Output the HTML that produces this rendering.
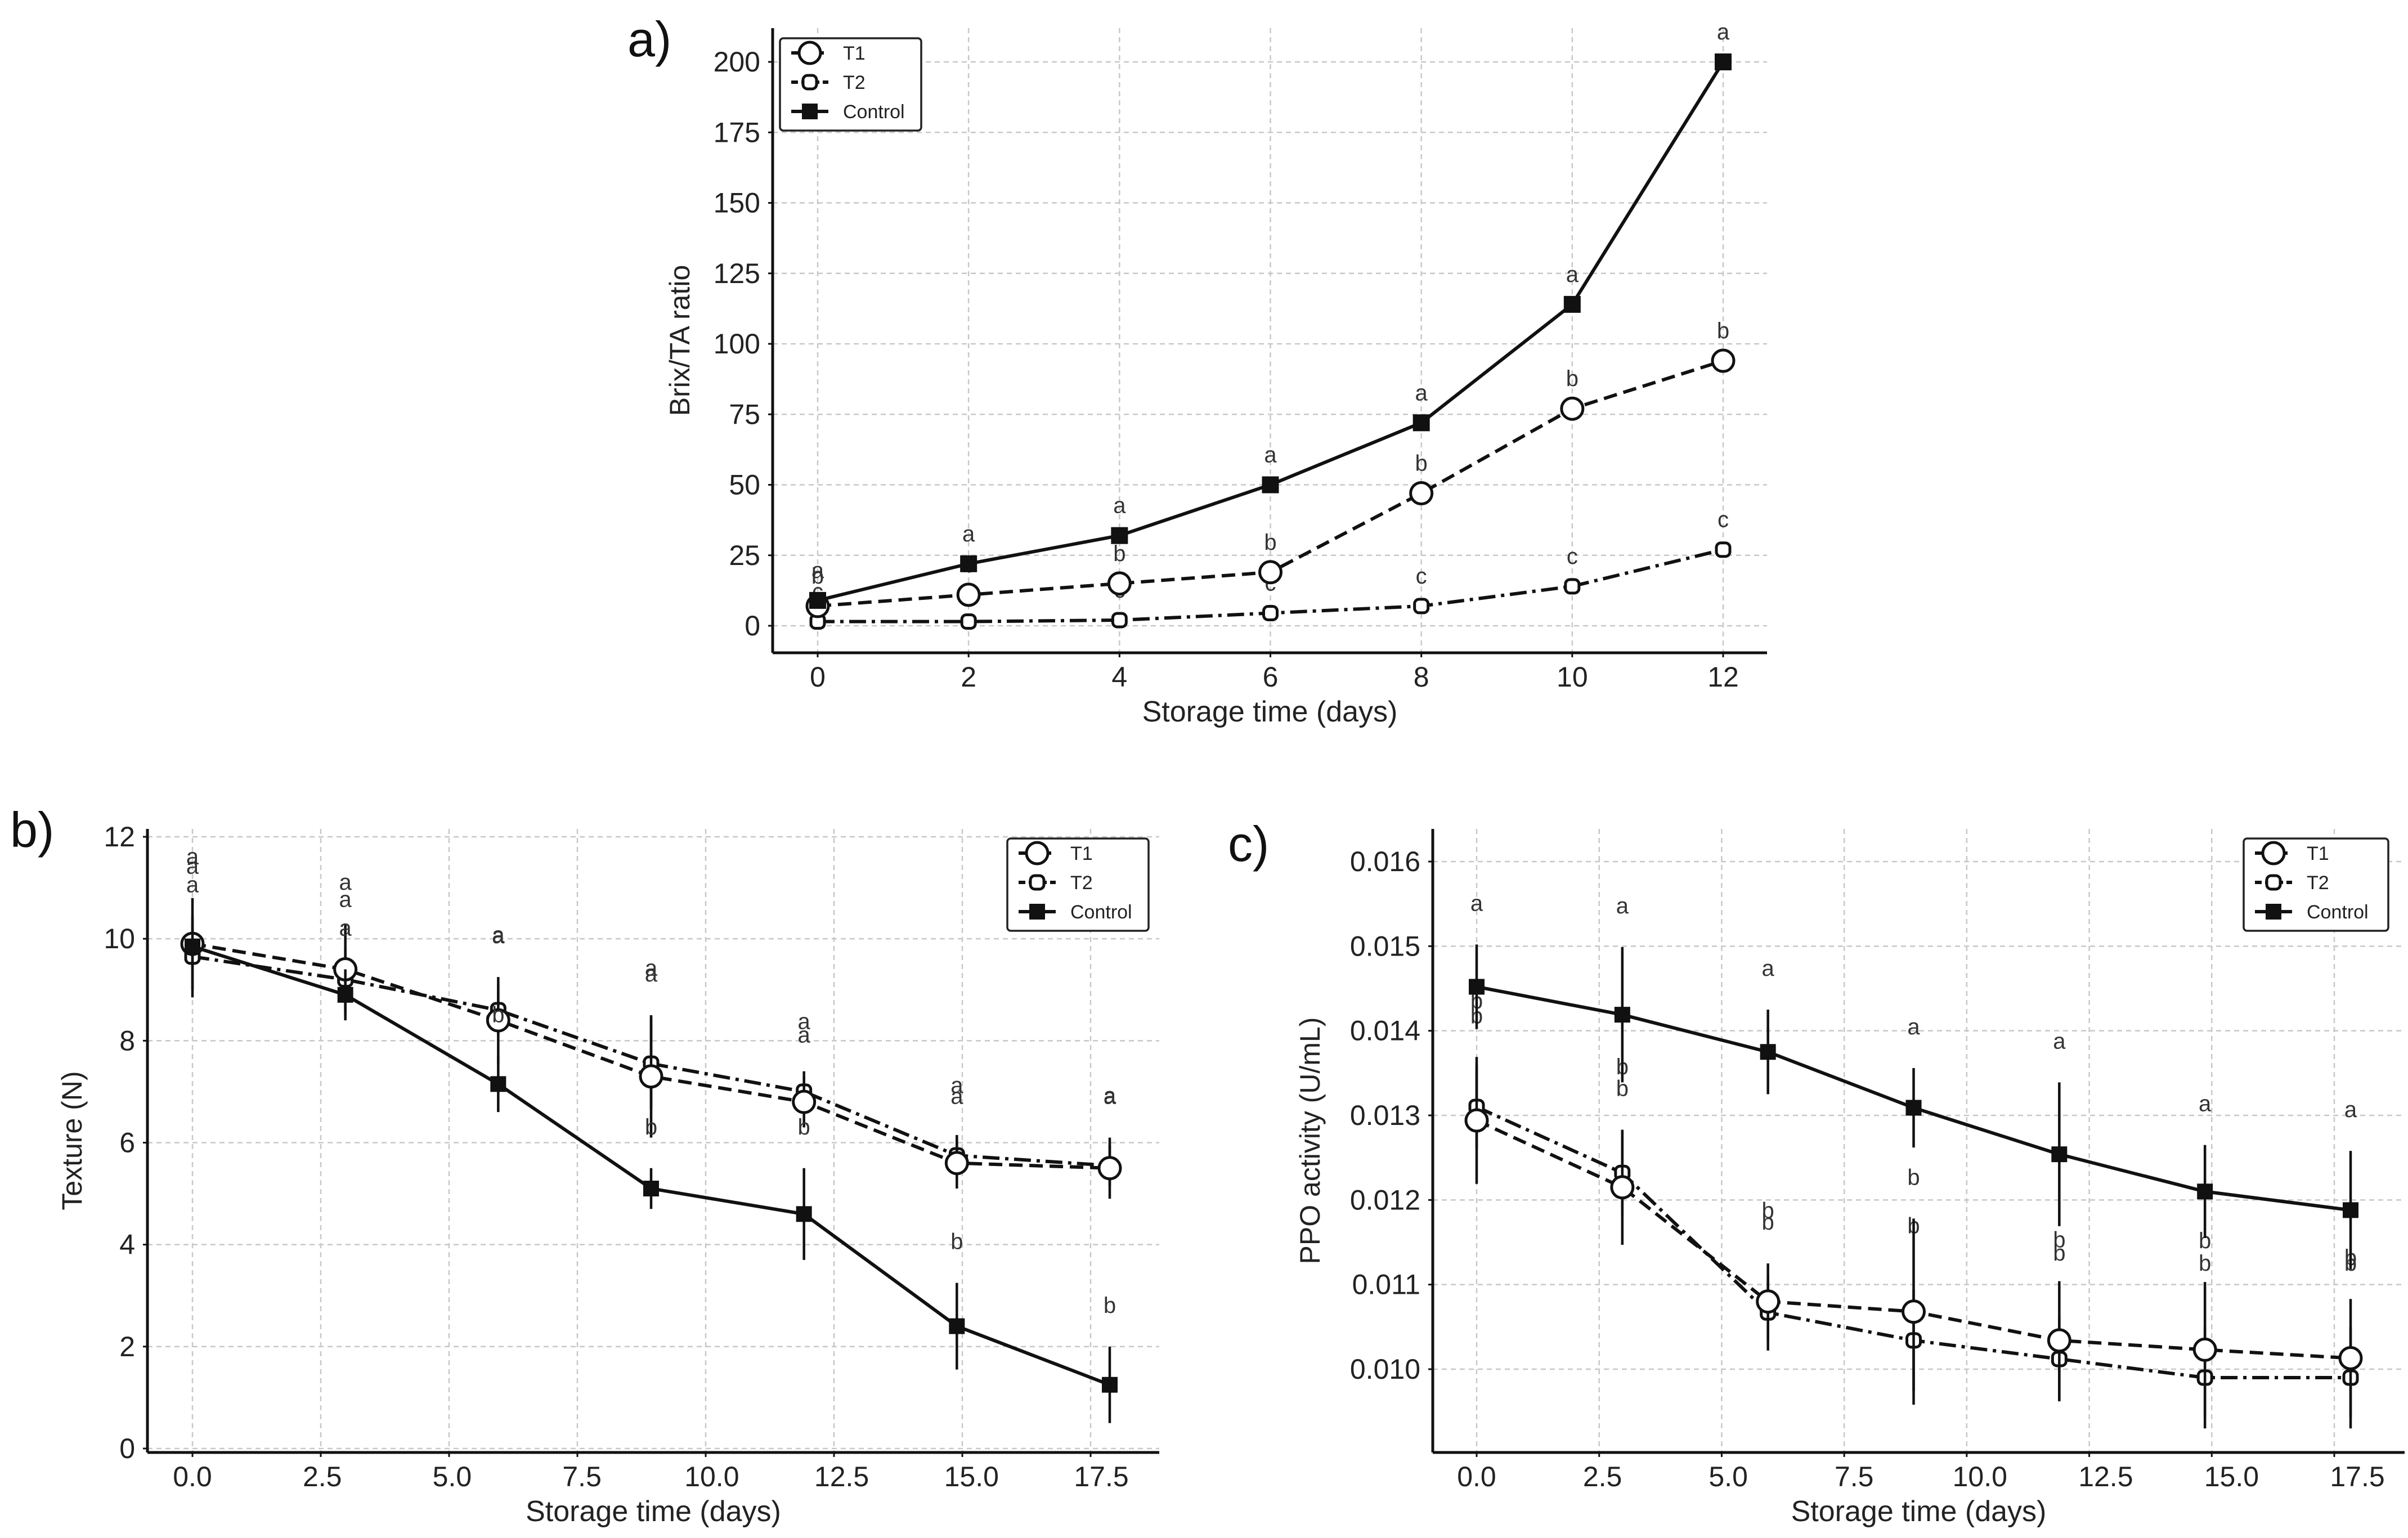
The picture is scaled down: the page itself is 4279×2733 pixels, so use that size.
<!DOCTYPE html>
<html><head><meta charset="utf-8"><style>
html,body{margin:0;padding:0;background:#fff}
svg{display:block}
text{font-family:"Liberation Sans","DejaVu Sans",sans-serif}
</style></head><body>
<svg id="fig" width="4279" height="2733" viewBox="0 0 4279 2733" xmlns="http://www.w3.org/2000/svg"></svg>
<script>
// ---- Panel a data ----
const daysA = [0,2,4,6,8,10,12];
const ctrlA = [9,22,32,50,72,114,200];
const t1A = [7,11,15,19,47,77,94];
const t2A = [1.5,1.5,2,4.5,7,14,27];
const ticksAX = [0,2,4,6,8,10,12];
const ticksAY = [0,25,50,75,100,125,150,175,200];
// ---- Panel b data ----
const daysB = [0,3,6,9,12,15,18];
const t1B = [9.9,9.4,8.4,7.3,6.8,5.6,5.5];
const t1BErr = [0.9,0.9,0.85,1.2,0.5,0.5,0.6];
const t2B = [9.65,9.2,8.6,7.55,7.0,5.75,5.55];
const t2BErr = [0.8,0.6,0.5,0.9,0.4,0.4,0.4];
const ctrlB = [9.85,8.9,7.15,5.1,4.6,2.4,1.25];
const ctrlBErr = [0.4,0.5,0.55,0.4,0.9,0.85,0.75];
const ticksBX = [0,2.5,5,7.5,10,12.5,15,17.5];
const ticksBY = [0,2,4,6,8,10,12];
// ---- Panel c data ----
const daysC = [0,3,6,9,12,15,18];
const ctrlC = [0.01452,0.01419,0.01375,0.01309,0.01254,0.0121,0.01188];
const ctrlCErr = [0.0005,0.0008,0.0005,0.00047,0.00085,0.00055,0.0007];
const t1C = [0.01294,0.01215,0.0108,0.01068,0.01034,0.01023,0.01013];
const t1CErr = [0.00075,0.00068,0.00045,0.0011,0.0007,0.0008,0.0007];
const t2C = [0.0131,0.01232,0.01067,0.01034,0.01012,0.0099,0.0099];
const t2CErr = [0.0005,0.0005,0.00045,0.0006,0.0005,0.0006,0.0006];
const ticksCX = [0,2.5,5,7.5,10,12.5,15,17.5];
const ticksCY = [0.010,0.011,0.012,0.013,0.014,0.015,0.016];

const NS='http://www.w3.org/2000/svg';
const svg=document.getElementById('fig');
function mk(tag,attrs,parent){const e=document.createElementNS(NS,tag);for(const k in attrs)e.setAttribute(k,attrs[k]);(parent||svg).appendChild(e);return e;}

const DASH={t1:'24 12',t2:'30 10 6 10',ctrl:'none'};

function marker(g,kind,x,y,big){
  let m;
  if(kind==='ctrl'){const s=big?28:26;m=mk('rect',{x:x-s/2,y:y-s/2,width:s,height:s,fill:'#111',stroke:'#111','stroke-width':2},g);
    }
  else if(kind==='t1'){m=mk('circle',{cx:x,cy:y,r:19,fill:'#fff',stroke:'#111','stroke-width':5},g);
    }
  else {m=mk('rect',{x:x-12,y:y-12,width:24,height:24,rx:8,fill:'#fff',stroke:'#111','stroke-width':5},g);
    }
  
}

function panel(p){
  const g=mk('g',{});
  
  
  const X=v=>p.x0+(v-p.xa)/(p.xb-p.xa)*(p.x1-p.x0);
  const lastT=p.tx[p.tx.length-1];
  const GX=v=>p.x0+(v-p.xa)/(lastT-p.xa)*(p.gx-p.x0);
  const LX=v=>p.x0+(v-p.xa)/(lastT-p.xa)*(p.lxl-p.x0);
  const Y=v=>p.y0+(v-p.ya)/(p.yb-p.ya)*(p.y1-p.y0);
  p.tx.forEach(t=>{const l=mk('line',{x1:GX(t),x2:GX(t),y1:p.top,y2:p.bottom,stroke:'#c8c8c8','stroke-width':2.5,'stroke-dasharray':'9 7'},g);
    });
  p.ty.forEach(t=>{const l=mk('line',{x1:p.left,x2:p.right,y1:Y(t),y2:Y(t),stroke:'#c8c8c8','stroke-width':2.5,'stroke-dasharray':'9 7'},g);
    });
  let s=mk('line',{x1:p.left,x2:p.left,y1:p.top,y2:p.bottom,stroke:'#111','stroke-width':5},g);
  
  s=mk('line',{x1:p.left,x2:p.right,y1:p.bottom,y2:p.bottom,stroke:'#111','stroke-width':5},g);
  
  p.tx.forEach((t,i)=>{mk('line',{x1:GX(t),x2:GX(t),y1:p.bottom,y2:p.bottom+8,stroke:'#111','stroke-width':3},g);
    const e=mk('text',{x:LX(t),y:p.bottom+60,'font-size':50,'text-anchor':'middle',fill:'#222'},g);
    e.textContent=p.fx(t);});
  p.ty.forEach(t=>{mk('line',{x1:p.left-8,x2:p.left,y1:Y(t),y2:Y(t),stroke:'#111','stroke-width':3},g);
    const e=mk('text',{x:p.left-22,y:Y(t)+17,'font-size':50,'text-anchor':'end',fill:'#222'},g);
    e.textContent=p.fy(t);});
  let e=mk('text',{x:(p.left+p.right)/2,y:p.bottom+122,'font-size':52,'text-anchor':'middle',fill:'#222'},g);
  e.textContent='Storage time (days)';
  e=mk('text',{x:0,y:0,'font-size':50,'text-anchor':'middle',fill:'#222',transform:`translate(${p.ytx},${(p.top+p.bottom)/2}) rotate(-90)`},g);
  e.textContent=p.ytitle;
  e=mk('text',{x:p.lx,y:p.ly,'font-size':88,fill:'#111'},g);
  e.textContent=p.label;
  p.series.forEach(sr=>{
    const sg=mk('g',{},g);
    if(sr.err){sr.vals.forEach((v,i)=>{const l=mk('line',{x1:X(p.days[i]),x2:X(p.days[i]),y1:Y(v-sr.err[i]),y2:Y(v+sr.err[i]),stroke:'#111','stroke-width':4.5},sg);
      });}
    const pts=sr.vals.map((v,i)=>X(p.days[i])+','+Y(v)).join(' ');
    const pl=mk('polyline',{points:pts,fill:'none',stroke:'#111','stroke-width':6,'stroke-dasharray':DASH[sr.kind]},sg);
    
    sr.vals.forEach((v,i)=>marker(sg,sr.kind,X(p.days[i]),Y(v),p.big));
    sr.vals.forEach((v,i)=>{const top=sr.err?v+sr.err[i]:v;
      const t=mk('text',{x:X(p.days[i]),y:Y(top)-(sr.err?60:40)-(sr.off||0),'font-size':40,'text-anchor':'middle',fill:'#333'},sg);
      t.textContent=sr.letter[i];});
  });
  const lg=mk('g',{},g);
  mk('rect',{x:p.leg[0],y:p.leg[1],width:p.leg[2],height:164,rx:6,fill:'#fff',stroke:'#222','stroke-width':3.5},lg);
  [['t1','T1'],['t2','T2'],['ctrl','Control']].forEach((it,i)=>{
    const yy=p.leg[1]+26+i*52, xx=p.leg[0]+20;
    const ln=mk('line',{x1:xx,x2:xx+66,y1:yy,y2:yy,stroke:'#111','stroke-width':6,'stroke-dasharray':it[0]==='t1'?'14 8':it[0]==='t2'?'12 6 4 6':'none'},lg);
    
    marker(lg,it[0],xx+33,yy,false);
    const tt=mk('text',{x:xx+92,y:yy+12,'font-size':34,fill:'#222'},lg);
    tt.textContent=it[1];
  });
}

const intF=t=>String(t), f1=t=>t.toFixed(1), f3=t=>t.toFixed(3);
panel({name:'panel-a',label:'a)',lx:1115,ly:100,days:daysA,xa:0,xb:12,x0:1453,x1:3062,gx:3062,lxl:3062,ya:0,yb:200,y0:1112,y1:110,
  left:1373,right:3140,top:50,bottom:1160,tx:ticksAX,ty:ticksAY,fx:intF,fy:intF,ytitle:'Brix/TA ratio',ytx:1225,big:true,
  leg:[1386,68,251],
  series:[{kind:'t2',vals:t2A,letter:['c','c','c','c','c','c','c']},
          {kind:'t1',vals:t1A,letter:['b','b','b','b','b','b','b']},
          {kind:'ctrl',vals:ctrlA,letter:['a','a','a','a','a','a','a']}]});
panel({name:'panel-b',label:'b)',lx:18,ly:1505,days:daysB,xa:0,xb:18,x0:342,x1:1972,gx:1938,lxl:1957,ya:0,yb:12,y0:2574,y1:1487,
  left:262,right:2060,top:1473,bottom:2581,tx:ticksBX,ty:ticksBY,fx:f1,fy:intF,ytitle:'Texture (N)',ytx:145,
  leg:[1790,1490,251],
  series:[{kind:'t2',vals:t2B,err:t2BErr,letter:['a','a','a','a','a','a','a'],off:15},
          {kind:'t1',vals:t1B,err:t1BErr,letter:['a','a','a','a','a','a','a']},
          {kind:'ctrl',vals:ctrlB,err:ctrlBErr,letter:['a','a','b','b','b','b','b']}]});
panel({name:'panel-c',label:'c)',lx:2182,ly:1530,days:daysC,xa:0,xb:18,x0:2624,x1:4177,gx:4148,lxl:4189,ya:0.010,yb:0.016,y0:2433,y1:1531,
  left:2546,right:4273,top:1473,bottom:2581,tx:ticksCX,ty:ticksCY,fx:f1,fy:f3,ytitle:'PPO activity (U/mL)',ytx:2345,
  leg:[3987,1490,257],
  series:[{kind:'t2',vals:t2C,err:t2CErr,letter:['b','b','b','b','b','b','b'],off:40},
          {kind:'t1',vals:t1C,err:t1CErr,letter:['b','b','b','b','b','b','b']},
          {kind:'ctrl',vals:ctrlC,err:ctrlCErr,letter:['a','a','a','a','a','a','a']}]});
</script>
</body></html>
